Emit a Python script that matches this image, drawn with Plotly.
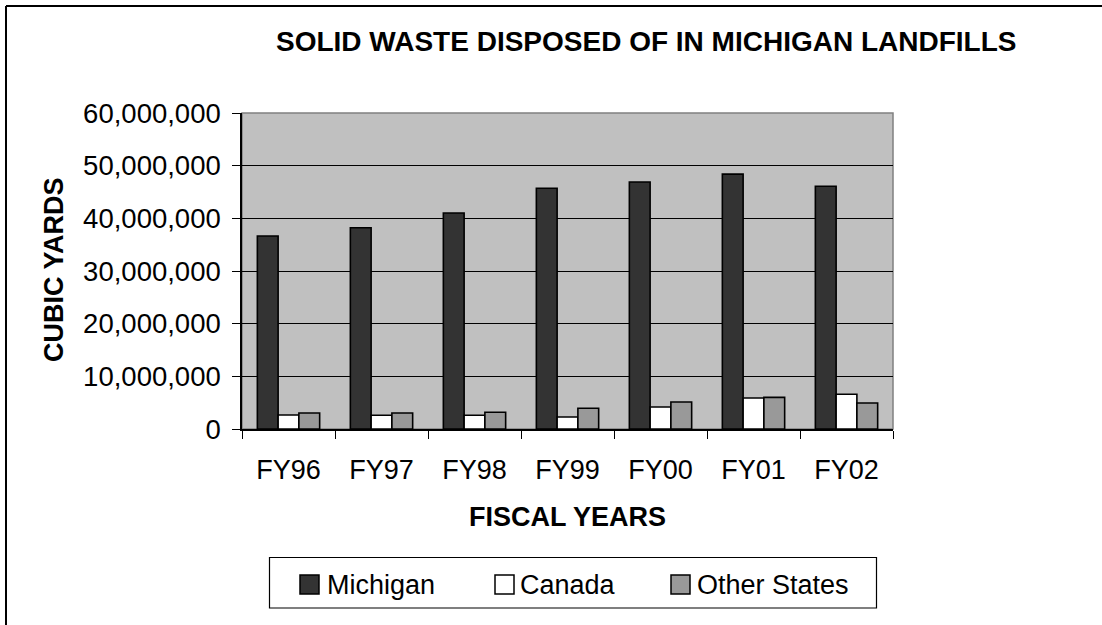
import plotly.graph_objects as go

years = ["FY96", "FY97", "FY98", "FY99", "FY00", "FY01", "FY02"]
michigan = [36650000, 38200000, 41000000, 45700000, 46900000, 48400000, 46100000]
canada = [2660000, 2600000, 2600000, 2280000, 4190000, 5900000, 6600000]
other_states = [3040000, 3040000, 3170000, 3930000, 5140000, 6000000, 4950000]

series_names = ["Michigan", "Canada", "Other States"]
series_values = [michigan, canada, other_states]
series_colors = ["#333333", "#FFFFFF", "#999999"]

y_ticks = [0, 10000000, 20000000, 30000000, 40000000, 50000000, 60000000]

W, H = 1102, 625
L, R, T, B = 242, 893, 113, 429
FONT = "Liberation Sans, Arial, sans-serif"


def px(x):
    return (x - L) / (R - L)


def py(y):
    return (B - y) / (B - T)


fig = go.Figure()
for name, vals, col in zip(series_names, series_values, series_colors):
    fig.add_trace(go.Bar(
        x=years, y=vals, name=name,
        marker=dict(color=col, line=dict(color="#000000", width=1.6)),
        showlegend=False,
    ))

shapes = []
annotations = []

# outer chart border (left and top visible)
shapes.append(dict(type="line", xref="paper", yref="paper",
                   x0=px(6), x1=px(1104), y0=py(6), y1=py(6),
                   line=dict(color="#000000", width=2)))
shapes.append(dict(type="line", xref="paper", yref="paper",
                   x0=px(6), x1=px(6), y0=py(6), y1=py(627),
                   line=dict(color="#000000", width=2)))

# plot area border (gray)
shapes.append(dict(type="rect", xref="paper", yref="paper",
                   x0=0, x1=1, y0=0, y1=1, layer="below",
                   line=dict(color="#808080", width=1.5)))

# custom legend box
shapes.append(dict(type="rect", xref="paper", yref="paper",
                   x0=px(269.5), x1=px(876.5), y0=py(557.5), y1=py(608),
                   line=dict(color="#000000", width=1.2), fillcolor="#FFFFFF"))
legend_sq_x = [300, 495, 671]
legend_tx_x = [325, 518, 695]
for name, col, sx, tx in zip(series_names, series_colors, legend_sq_x, legend_tx_x):
    shapes.append(dict(type="rect", xref="paper", yref="paper",
                       x0=px(sx), x1=px(sx + 19), y0=py(575), y1=py(594),
                       line=dict(color="#000000", width=1.5), fillcolor=col))
    annotations.append(dict(text=name, xref="paper", yref="paper",
                            x=px(tx), y=py(585), xanchor="left", yanchor="middle",
                            showarrow=False,
                            font=dict(family=FONT, size=27, color="#000000")))

# title
annotations.append(dict(text="<b>SOLID WASTE DISPOSED OF IN MICHIGAN LANDFILLS</b>",
                        xref="paper", yref="paper", x=px(645.5), y=py(42),
                        xanchor="center", yanchor="middle", showarrow=False,
                        font=dict(family=FONT, size=28, color="#000000")))
# axis titles
annotations.append(dict(text="<b>CUBIC YARDS</b>", xref="paper", yref="paper",
                        x=px(54), y=py(270), xanchor="center", yanchor="middle",
                        textangle=-90, showarrow=False,
                        font=dict(family=FONT, size=27, color="#000000")))
annotations.append(dict(text="<b>FISCAL YEARS</b>", xref="paper", yref="paper",
                        x=px(567), y=py(517), xanchor="center", yanchor="middle",
                        showarrow=False,
                        font=dict(family=FONT, size=27, color="#000000")))

fig.update_layout(
    width=W, height=H,
    margin=dict(l=L, r=W - R, t=T, b=H - B, autoexpand=False),
    paper_bgcolor="#FFFFFF",
    plot_bgcolor="#C0C0C0",
    barmode="group",
    bargap=0.33,
    bargroupgap=0,
    showlegend=False,
    shapes=shapes,
    annotations=annotations,
    font=dict(family=FONT, size=27, color="#000000"),
)
fig.update_xaxes(
    type="category", automargin=False,
    showgrid=False, showline=True, linecolor="#000000", linewidth=1.5,
    ticks="outside", ticklen=8, tickcolor="#000000", tickwidth=1,
    tickson="boundaries", ticklabelstandoff=16,
    tickfont=dict(family=FONT, size=27, color="#000000"),
)
fig.update_yaxes(
    range=[0, 60000000], tickvals=y_ticks, tickformat=",d",
    automargin=False, showgrid=True, gridcolor="#000000", gridwidth=1,
    showline=True, linecolor="#000000", linewidth=1.5,
    ticks="outside", ticklen=8, tickcolor="#000000", tickwidth=1,
    ticklabelstandoff=6, zeroline=False,
    tickfont=dict(family=FONT, size=27.5, color="#000000"),
)

fig.write_html("out.html",
               config={"displayModeBar": False},
               post_script="document.body.style.margin='0';document.body.style.overflow='hidden';")
